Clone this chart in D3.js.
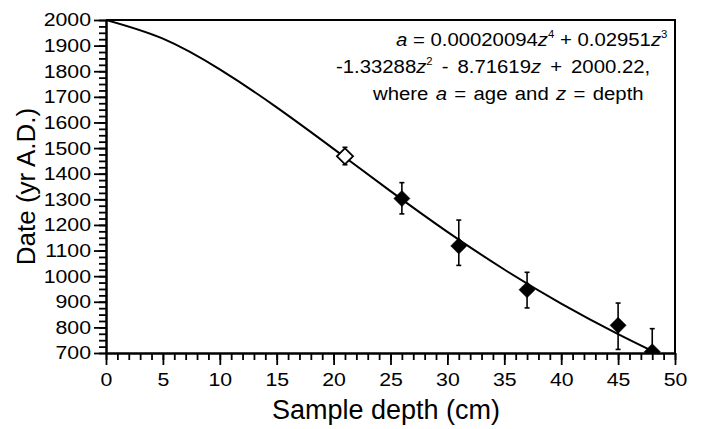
<!DOCTYPE html>
<html>
<head>
<meta charset="utf-8">
<script src="https://cdn.jsdelivr.net/npm/d3@7"></script>
<style>
  body { margin: 0; background: #fff; }
  svg { display: block; font-family: "Liberation Sans", Arial, sans-serif; }
</style>
</head>
<body>
<svg id="chart"></svg>
<script>
// dated samples (depth cm, date yr A.D., 1-sigma range)
const depth = [21, 26, 31, 37, 45, 48]
const date = [1468, 1303, 1118, 947, 808, 705]
const errLow = [1435, 1243, 1042, 876, 714, 615]
const errHigh = [1503, 1365, 1219, 1015, 895, 795]
const isOpen = [true, false, false, false, false, false]

// fitted curve
const fitDepth = [0, 5, 10, 15, 20, 25, 30, 35, 40, 45, 50]
const fitDate = [2000, 1927, 1807, 1659, 1497, 1332, 1173, 1026, 893, 774, 665]

const xTicks = [0, 5, 10, 15, 20, 25, 30, 35, 40, 45, 50]
const yTicks = [700, 800, 900, 1000, 1100, 1200, 1300, 1400, 1500, 1600, 1700, 1800, 1900, 2000]

const width = 701
const height = 429
const marge = {top: 20, right: 26, bottom: 76, left: 106}

const svg = d3.select('#chart').attr('width', width).attr('height', height)
const g = svg.append('g').attr('transform', 'translate(' + marge.left + ',' + marge.top + ')')

const w = width - marge.left - marge.right
const h = height - marge.top - marge.bottom

const x = d3.scaleLinear().domain([0, 50]).range([0, w])
const y = d3.scaleLinear().domain([700, 2000]).range([h, 0])

// the original lettering is a bit wider than Liberation Sans
const stretch = 1.15

// clip so the last point and the curve stop at the axes
g.append('clipPath').attr('id', 'plot-clip')
  .append('rect').attr('width', w).attr('height', h)

const plot = g.append('g').attr('clip-path', 'url(#plot-clip)')

// fit line
const line = d3.line()
  .x(function (d) { return x(d[0]) })
  .y(function (d) { return y(d[1]) })
  .curve(d3.curveNatural)

plot.append('path')
  .datum(fitDepth.map(function (d, i) { return [d, fitDate[i]] }))
  .attr('d', line)
  .attr('fill', 'none')
  .attr('stroke', '#000')
  .attr('stroke-width', 2)

const samples = depth.map(function (d, i) {
  return {z: d, a: date[i], lo: errLow[i], hi: errHigh[i], open: isOpen[i]}
})

// error bars
const eb = plot.append('g').attr('stroke', '#000').attr('stroke-width', 1.6)
eb.selectAll('.bar').data(samples).enter().append('line')
  .attr('x1', function (d) { return x(d.z) })
  .attr('x2', function (d) { return x(d.z) })
  .attr('y1', function (d) { return y(d.lo) })
  .attr('y2', function (d) { return y(d.hi) })
eb.selectAll('.capHi').data(samples).enter().append('line')
  .attr('x1', function (d) { return x(d.z) - 2.5 })
  .attr('x2', function (d) { return x(d.z) + 2.5 })
  .attr('y1', function (d) { return y(d.hi) })
  .attr('y2', function (d) { return y(d.hi) })
eb.selectAll('.capLo').data(samples).enter().append('line')
  .attr('x1', function (d) { return x(d.z) - 2.5 })
  .attr('x2', function (d) { return x(d.z) + 2.5 })
  .attr('y1', function (d) { return y(d.lo) })
  .attr('y2', function (d) { return y(d.lo) })

// diamonds = squares turned 45 degrees
const diamond = d3.symbol().type(d3.symbolSquare).size(130)
plot.selectAll('.pt').data(samples).enter().append('path')
  .attr('d', diamond)
  .attr('transform', function (d) { return 'translate(' + x(d.z) + ',' + y(d.a) + ') rotate(45)' })
  .attr('fill', function (d) { return d.open ? '#fff' : '#000' })
  .attr('stroke', '#000')
  .attr('stroke-width', function (d) { return d.open ? 1.8 : 0.5 })

// axes
const fontSize = 18.5

const xAxis = g.append('g').attr('transform', 'translate(0,' + h + ')')
  .call(d3.axisBottom(x).tickValues(xTicks).tickSizeInner(12).tickSizeOuter(0).tickPadding(8))
xAxis.append('g')
  .call(d3.axisBottom(x).tickValues(d3.range(0, 51, 1)).tickSizeInner(7).tickSizeOuter(0).tickFormat(''))

const yAxis = g.append('g')
  .call(d3.axisLeft(y).tickValues(yTicks).tickFormat(d3.format('d')).tickSizeInner(12).tickSizeOuter(0).tickPadding(3))
yAxis.append('g')
  .call(d3.axisLeft(y).tickValues(d3.range(700, 2001, 25)).tickSizeInner(7).tickSizeOuter(0).tickFormat(''))

g.selectAll('.domain').attr('stroke-width', 2).attr('stroke', '#000')
g.selectAll('.tick line').attr('stroke-width', 1.8).attr('stroke', '#000')
g.selectAll('.tick text')
  .attr('font-size', fontSize).attr('fill', '#000')
  .attr('transform', 'scale(' + stretch + ',1)')
yAxis.selectAll('.tick text').attr('x', -15 / stretch)
g.selectAll('.tick text').each(function () { this.parentNode.parentNode.removeAttribute('font-family') })

// top and right frame
g.append('path')
  .attr('d', 'M0,0H' + w + 'V' + h)
  .attr('fill', 'none').attr('stroke', '#000').attr('stroke-width', 2)

// axis titles
svg.append('text')
  .attr('x', 386).attr('y', 419)
  .attr('text-anchor', 'middle').attr('font-size', 27)
  .text('Sample depth (cm)')

svg.append('text')
  .attr('transform', 'translate(35,' + (marge.top + h / 2) + ') rotate(-90)')
  .attr('text-anchor', 'middle').attr('font-size', 26)
  .text('Date (yr A.D.)')

// equation
const eqStretch = 1.13
const eq = svg.append('g').attr('font-size', 18).attr('transform', 'scale(' + eqStretch + ',1)')
const l1 = eq.append('text').attr('x', 396 / eqStretch).attr('y', 46)
l1.append('tspan').attr('font-style', 'italic').text('a')
l1.append('tspan').text(' = 0.00020094')
l1.append('tspan').attr('font-style', 'italic').text('z')
l1.append('tspan').attr('font-size', 10).attr('dy', -8).text('4')
l1.append('tspan').attr('dy', 8).text(' + 0.02951')
l1.append('tspan').attr('font-style', 'italic').text('z')
l1.append('tspan').attr('font-size', 10).attr('dy', -8).text('3')

const l2 = eq.append('text').attr('x', 336 / eqStretch).attr('y', 73).attr('word-spacing', 3)
l2.append('tspan').text('-1.33288')
l2.append('tspan').attr('font-style', 'italic').text('z')
l2.append('tspan').attr('font-size', 10).attr('dy', -8).text('2')
l2.append('tspan').attr('dy', 8).text(' - 8.71619')
l2.append('tspan').attr('font-style', 'italic').text('z')
l2.append('tspan').text(' + 2000.22,')

const l3 = eq.append('text').attr('x', 373 / eqStretch).attr('y', 100).attr('word-spacing', 1.5)
l3.append('tspan').text('where ')
l3.append('tspan').attr('font-style', 'italic').text('a')
l3.append('tspan').text(' = age and ')
l3.append('tspan').attr('font-style', 'italic').text('z')
l3.append('tspan').text(' = depth')
</script>
</body>
</html>
